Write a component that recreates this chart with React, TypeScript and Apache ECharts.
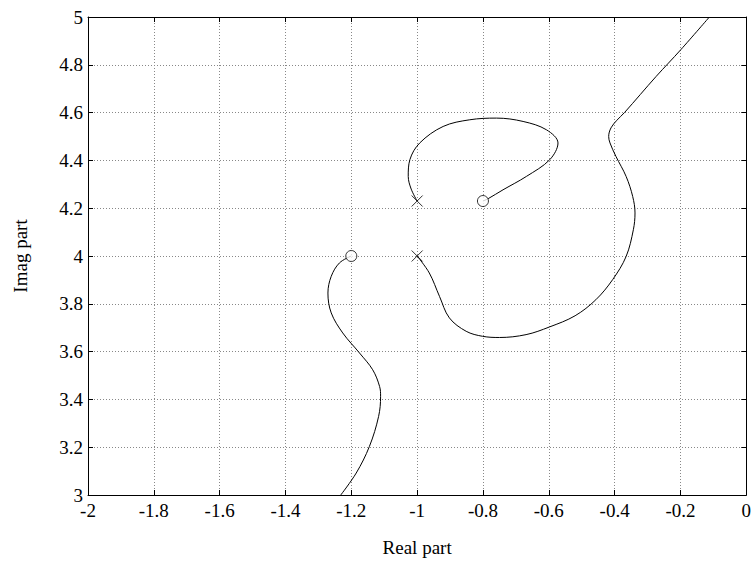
import React, { useEffect, useRef } from "react";
import * as echarts from "echarts";

// Root locus branches [real, imag]
const branchUpper: number[][] = [
  [-1.0, 4.23], [-1.018, 4.28], [-1.027, 4.333], [-1.022, 4.403], [-0.992, 4.473],
  [-0.921, 4.542], [-0.84, 4.57], [-0.759, 4.577], [-0.678, 4.563], [-0.607, 4.528],
  [-0.572, 4.473], [-0.597, 4.403], [-0.668, 4.333], [-0.739, 4.277], [-0.784, 4.24], [-0.8, 4.23],
];
const branchRight: number[][] = [
  [-1.0, 4.0], [-0.963, 3.929], [-0.932, 3.831], [-0.902, 3.741], [-0.851, 3.685],
  [-0.801, 3.664], [-0.75, 3.659], [-0.669, 3.671], [-0.598, 3.703], [-0.52, 3.75],
  [-0.457, 3.817], [-0.406, 3.901], [-0.365, 3.998], [-0.343, 4.11], [-0.338, 4.18],
  [-0.345, 4.249], [-0.365, 4.333], [-0.396, 4.417], [-0.414, 4.473], [-0.418, 4.5],
  [-0.411, 4.536], [-0.393, 4.568], [-0.37, 4.6], [-0.274, 4.751], [-0.199, 4.863], [-0.112, 5.0],
];
const branchLeft: number[][] = [
  [-1.2, 4.0], [-1.236, 3.971], [-1.261, 3.915], [-1.271, 3.845], [-1.261, 3.762],
  [-1.226, 3.678], [-1.175, 3.594], [-1.135, 3.524], [-1.114, 3.454], [-1.111, 3.413],
  [-1.117, 3.329], [-1.145, 3.203], [-1.185, 3.092], [-1.232, 3.0],
];
const poles: number[][] = [[-1.0, 4.23], [-1.0, 4.0]];
const zeros: number[][] = [[-0.8, 4.23], [-1.2, 4.0]];

const xMin = -2, xMax = 0, yMin = 3, yMax = 5, step = 0.2;

const fmt = (v: number) => {
  const s = (Math.round(v * 10) / 10).toString();
  return s === "-0" ? "0" : s;
};

export default function App() {
  const ref = useRef<HTMLDivElement>(null);
  useEffect(() => {
    if (!ref.current) return;
    const chart = echarts.init(ref.current, null, { renderer: "svg" });
    const font = "'Liberation Serif', 'DejaVu Serif', serif";
    const tick = { show: true, inside: true, length: 5, lineStyle: { color: "#000" } };
    const split = { show: true, lineStyle: { color: "#888", type: [1, 2] as any, width: 1 } };
    const line = { show: true, onZero: false, lineStyle: { color: "#000", width: 1 } };
    const lineStyle = { color: "#000", width: 1 };
    chart.setOption({
      animation: false,
      backgroundColor: "#fff",
      grid: { left: 88, right: 7, top: 17, bottom: 69, containLabel: false },
      xAxis: [
        {
          type: "value", min: xMin, max: xMax, interval: step,
          axisLine: line, axisTick: tick, splitLine: split,
          axisLabel: { formatter: fmt, color: "#000", fontFamily: font, fontSize: 19, margin: 6 },
          name: "Real part", nameLocation: "middle", nameGap: 43,
          nameTextStyle: { color: "#000", fontFamily: font, fontSize: 19 },
        },
        {
          type: "value", position: "top", min: xMin, max: xMax, interval: step,
          axisLine: line, axisTick: tick, splitLine: { show: false }, axisLabel: { show: false },
        },
      ],
      yAxis: [
        {
          type: "value", min: yMin, max: yMax, interval: step,
          axisLine: line, axisTick: tick, splitLine: split,
          axisLabel: { formatter: fmt, color: "#000", fontFamily: font, fontSize: 19, margin: 5 },
          name: "Imag part", nameLocation: "middle", nameGap: 58,
          nameTextStyle: { color: "#000", fontFamily: font, fontSize: 19 },
        },
        {
          type: "value", position: "right", min: yMin, max: yMax, interval: step,
          axisLine: line, axisTick: tick, splitLine: { show: false }, axisLabel: { show: false },
        },
      ],
      series: [
        { type: "line", data: branchUpper, showSymbol: false, smooth: 0.35, lineStyle, silent: true },
        { type: "line", data: branchRight, showSymbol: false, smooth: 0.35, lineStyle, silent: true },
        { type: "line", data: branchLeft, showSymbol: false, smooth: 0.35, lineStyle, silent: true },
        {
          type: "scatter", data: poles, symbol: "path://M0,0L10,10M10,0L0,10", symbolSize: 11,
          itemStyle: { color: "none", borderColor: "#000", borderWidth: 1 }, silent: true,
        },
        {
          type: "scatter", data: zeros, symbol: "circle", symbolSize: 11,
          itemStyle: { color: "#fff", borderColor: "#000", borderWidth: 1 }, silent: true, z: 3,
        },
      ],
    });
    return () => chart.dispose();
  }, []);
  return <div ref={ref} style={{ width: 754, height: 564, position: "absolute", left: 0, top: 0 }} />;
}
